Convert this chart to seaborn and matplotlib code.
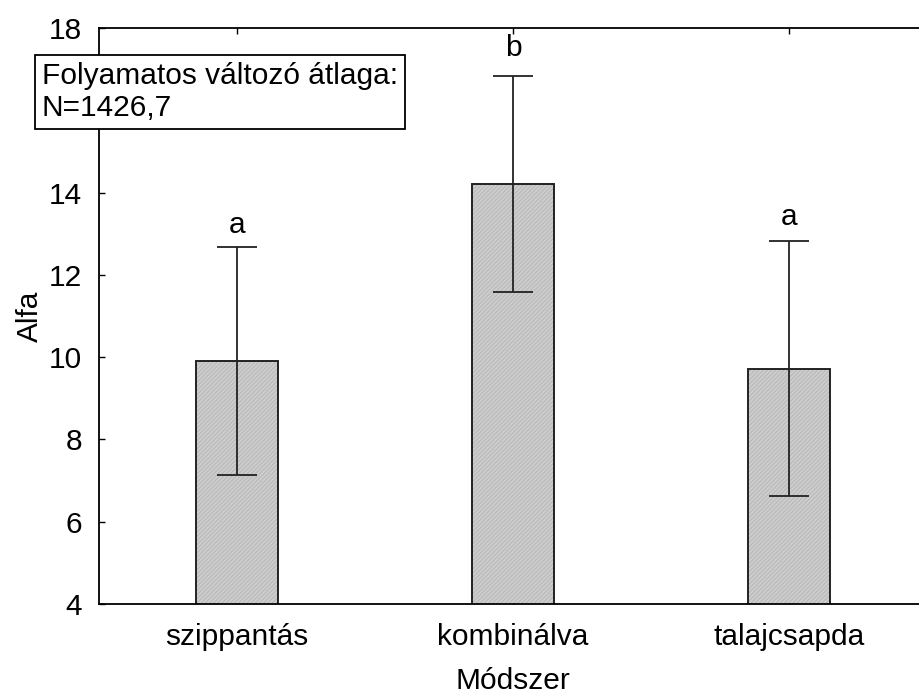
import matplotlib
matplotlib.use("Agg")
import matplotlib.pyplot as plt
import seaborn as sns
import pandas as pd
import numpy as np

categories = ["szippantás", "kombinálva", "talajcsapda"]
means = [9.91, 14.21, 9.72]
err_low = [7.13, 11.58, 6.63]
err_high = [12.68, 16.84, 12.82]
letters = ["a", "b", "a"]
letter_y = [13.21, 17.51, 13.41]
yticks = [4, 6, 8, 10, 12, 14, 16, 18]

sns.set_theme(style="ticks")
plt.rcParams["font.family"] = ["Liberation Sans", "DejaVu Sans"]
plt.rcParams["hatch.linewidth"] = 0.6
plt.rcParams["text.color"] = "black"
plt.rcParams["axes.labelcolor"] = "black"

FS = 21.5
df = pd.DataFrame({"Módszer": categories, "Alfa": means})

fig = plt.figure(figsize=(9.2, 6.95), dpi=100)
ax = fig.add_axes([99 / 920, 91 / 695, 828 / 920, 576 / 695])

# hatched fill (hatch takes the edge colour, kept light)
sns.barplot(data=df, x="Módszer", y="Alfa", ax=ax, color="#cdcdcd",
            width=0.3, errorbar=None, edgecolor="#b4b4b4", linewidth=0,
            saturation=1, hatch="////////")
# black outline on top
sns.barplot(data=df, x="Módszer", y="Alfa", ax=ax, fill=False,
            width=0.3, errorbar=None, edgecolor="#222222", linewidth=1.4,
            saturation=1, color="#222222")

x = np.arange(len(categories))
m = np.array(means)
yerr = np.vstack([m - np.array(err_low), np.array(err_high) - m])
ax.errorbar(x, m, yerr=yerr, fmt="none", ecolor="#222222", elinewidth=1.3,
            capsize=14.5, capthick=1.3, zorder=5)

for xi, t, ty in zip(x, letters, letter_y):
    ax.text(xi, ty, t, ha="center", va="center", fontsize=FS, color="black")

ax.set_xlim(-0.5, 2.5)
ax.set_ylim(4, 18)
ax.set_yticks(yticks)
# the "16" label is hidden behind the note box in the reference
ax.set_yticklabels([str(t) if t != 16 else "" for t in yticks])
ax.tick_params(axis="both", direction="in", length=4, width=1,
               labelsize=FS, top=True, right=True, colors="black",
               labelcolor="black")
ax.tick_params(axis="x", pad=14)
ax.tick_params(axis="y", pad=12)
for s in ax.spines.values():
    s.set_color("black")
    s.set_linewidth(1.3)
ax.set_xlabel("Módszer", fontsize=FS, labelpad=11, color="black")
ax.set_ylabel("Alfa", fontsize=FS, labelpad=4, color="black")

fig.text(42 / 920, 1 - 92 / 695, "Folyamatos változó átlaga:\nN=1426,7",
         fontsize=FS, ha="left", va="center", linespacing=1.2, color="black",
         bbox=dict(boxstyle="square,pad=0.22", facecolor="white",
                   edgecolor="black", linewidth=1.3), zorder=10)

fig.savefig("out.png", dpi=100)
